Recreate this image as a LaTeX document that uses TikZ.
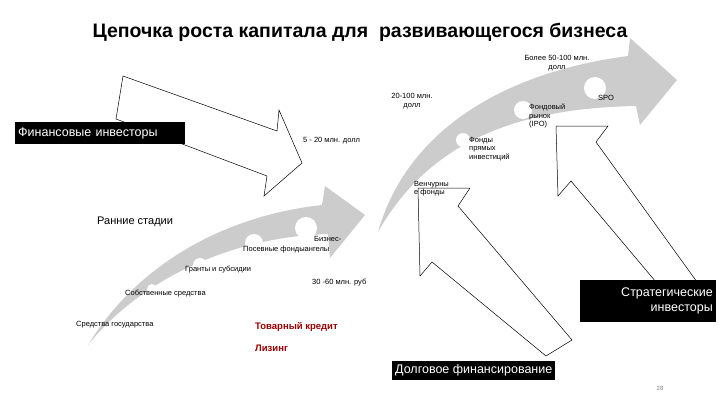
\documentclass[tikz,border=0pt]{standalone}
\usepackage{fontspec}
\setmainfont{Liberation Sans}
\begin{document}
\begin{tikzpicture}[x=1pt,y=-1pt,
  grayarr/.style={fill=black!20,draw=none},
  outarr/.style={draw=black,fill=white,line width=0.5pt},
  blk/.style={fill=black,text=white,font=\fontsize{12.5}{15}\selectfont,inner sep=3pt},
  lbl/.style={font=\fontsize{7.5}{8.5}\selectfont,align=left,inner sep=0pt},
  dot/.style={circle,fill=white,draw=none},
  red/.style={text=red!60!black,font=\bfseries\fontsize{9.5}{11}\selectfont,inner sep=0pt,anchor=west}]
\useasboundingbox (0,0) rectangle (720,405);
\node (title) at (360,32) {\bfseries\fontsize{19.5}{22}\selectfont Цепочка роста капитала для\ \ развивающегося бизнеса};
% big gray arrow
\path[grayarr] (378,232) .. controls (410,120) and (520,70) .. (628,56) -- (630,38) -- (677,80) -- (640,125) -- (636,106) .. controls (520,108) and (430,140) .. (378,232) -- cycle;
% small gray arrow
\path[grayarr] (88,345) .. controls (140,260) and (230,215) .. (322,205) -- (325,186) -- (365,215) -- (330,258) -- (328,234) .. controls (230,237) and (140,280) .. (88,345) -- cycle;
% dots
\foreach \n/\x/\y/\r in {d1/118/323/4,d2/152/289/5,d3/200/265/7,d4/254/243/9,d5/306/228/11,e1/413/193/4,e2/463/140/7,e3/523/110/9,e4/595/88/11}
  \node[dot,minimum size=2*\r pt] (\n) at (\x,\y) {};
% outline arrows
\draw[outarr] (123,76) -- (277,131) -- (279,110) -- (302,163) -- (264,196) -- (267,176) -- (116,119) -- cycle;
\draw[outarr] (418,188) -- (470,188) -- (458,206) -- (572,340) -- (546,356) -- (432,262) -- (420,276) -- cycle;
\draw[outarr] (556,126) -- (608,126) -- (596,142) -- (710,300) -- (688,320) -- (571,181) -- (558,196) -- cycle;
% boxes
\node[blk,anchor=west,minimum height=22pt,text width=164pt] (fin) at (15,133) {Финансовые инвесторы};
\node[blk,anchor=east,minimum height=42pt,text width=130pt,align=right] (str) at (716,301) {Стратегические\\инвесторы};
\node[blk,anchor=west,minimum height=19pt] (debt) at (392,370) {Долговое финансирование};
% labels
\node[lbl,align=center] (l1) at (557,63) {Более 50-100 млн.\\долл};
\node[lbl,anchor=west] (l2) at (598,98) {SPO};
\node[lbl,align=center] (l3) at (412,101) {20-100 млн.\\долл};
\node[lbl,anchor=west] (l4) at (303,141) {5 - 20 млн. долл};
\node[lbl,anchor=north west] (l5) at (529,104) {Фондовый\\рынок\\(IPO)};
\node[lbl,anchor=north west] (l6) at (469,137) {Фонды\\прямых\\инвестиций};
\node[lbl,anchor=north west] (l7) at (414,181) {Венчурны\\е фонды};
\node[anchor=west,inner sep=0pt,font=\fontsize{11}{13}\selectfont] (l8) at (97,222) {Ранние стадии};
\node[lbl,anchor=north west] (l9) at (314,236) {Бизнес-};
\node[lbl,anchor=west] (l10) at (243,250) {Посевные фондыангелы};
\node[lbl,anchor=west] (l11) at (185,270) {Гранты и субсидии};
\node[lbl,anchor=west] (l12) at (125,294) {Собственные средства};
\node[lbl,anchor=west] (l13) at (76,325) {Средства государства};
\node[lbl,anchor=west] (l14) at (312,283) {30 -60 млн. руб};
\node[red] (r1) at (255,327) {Товарный кредит};
\node[red] (r2) at (255,348) {Лизинг};
\node[font=\fontsize{6}{7}\selectfont,text=black!50] (pg) at (660,388) {28};
\end{tikzpicture}
\end{document}
